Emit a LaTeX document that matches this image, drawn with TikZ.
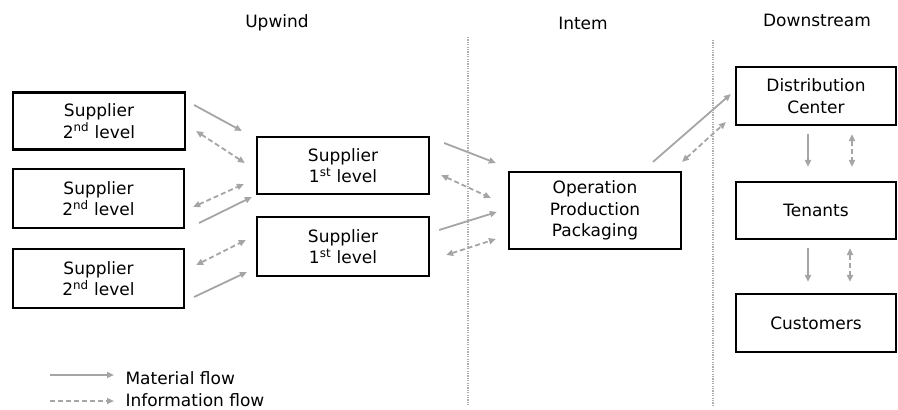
\documentclass[tikz,border=0pt]{standalone}
\usepackage{fontspec}
\setmainfont{DejaVu Sans}
\usetikzlibrary{arrows.meta,calc}
\definecolor{flowgray}{RGB}{165,165,165}
\definecolor{sepgray}{RGB}{175,175,175}
\tikzset{
  box/.style={draw=black, line width=2.2pt, align=center, inner sep=0pt,
    font=\fontsize{17}{21.5}\selectfont},
  hdr/.style={font=\fontsize{17}{21.5}\selectfont},
  mat/.style={draw=flowgray, line width=1.8pt, -{Triangle[length=7pt,width=6pt]}},
  info/.style={draw=flowgray, line width=1.8pt, dash pattern=on 5pt off 3pt,
    {Triangle[length=7pt,width=6pt]}-{Triangle[length=7pt,width=6pt]}},
  sep/.style={draw=sepgray, line width=1.4pt, dash pattern=on 1.2pt off 1.2pt}
}
\begin{document}
\begin{tikzpicture}[x=1pt,y=-1pt]
\useasboundingbox (0,0) rectangle (898,410);

% column headings
\node[hdr] (hup) at (277,23) {Upwind};
\node[hdr] (hin) at (583,23) {Intem};
\node[hdr] (hdown) at (817,20) {Downstream};

% column separators
\draw[sep] (468,37) -- (468,405);
\draw[sep] (713,40) -- (713,405);

% second-level suppliers
\node[box, minimum width=172pt, minimum height=57pt] (s2a) at (99,121) {Supplier\\2\textsuperscript{nd} level};
\node[box, minimum width=171pt, minimum height=59pt] (s2b) at (98.5,198.5) {Supplier\\2\textsuperscript{nd} level};
\node[box, minimum width=171pt, minimum height=59pt] (s2c) at (98.5,278.5) {Supplier\\2\textsuperscript{nd} level};

% first-level suppliers
\node[box, minimum width=172pt, minimum height=57pt] (s1a) at (343,165.5) {Supplier\\1\textsuperscript{st} level};
\node[box, minimum width=172pt, minimum height=59pt] (s1b) at (343,246.5) {Supplier\\1\textsuperscript{st} level};

% operations
\node[box, minimum width=172pt, minimum height=77pt] (op) at (595,210.5) {Operation\\Production\\Packaging};

% downstream chain
\node[box, minimum width=160pt, minimum height=58pt] (dc) at (816,96) {Distribution\\Center};
\node[box, minimum width=160pt, minimum height=57pt] (ten) at (816,210.5) {Tenants};
\node[box, minimum width=160pt, minimum height=58pt] (cus) at (816,323) {Customers};

% second level -> first level
\draw[mat]  ($(s2a.east)+(8,-16)$)   -- ($(s1a.west)+(-14,-34.5)$);
\draw[info] ($(s2a.east)+(10,10)$)   -- ($(s1a.west)+(-11,-2.5)$);
\draw[info] ($(s2b.east)+(8,8.5)$)   -- ($(s1a.west)+(-12,18.5)$);
\draw[mat]  ($(s2b.east)+(14,24.5)$) -- ($(s1a.west)+(-4,31.5)$);
\draw[info] ($(s2c.east)+(11,-13.5)$) -- ($(s1b.west)+(-10,-6.5)$);
\draw[mat]  ($(s2c.east)+(9,18.5)$)  -- ($(s1b.west)+(-9,25.5)$);

% first level -> operations
\draw[mat]  ($(s1a.east)+(14,-22.5)$) -- ($(op.west)+(-12,-47.5)$);
\draw[info] ($(s1a.east)+(11,9.5)$)   -- ($(op.west)+(-17,-12.5)$);
\draw[mat]  ($(s1b.east)+(9,-16.5)$)  -- ($(op.west)+(-11,1.5)$);
\draw[info] ($(s1b.east)+(16,8.5)$)   -- ($(op.west)+(-12,28.5)$);

% operations -> distribution
\draw[mat]  ($(op.north)+(58,-9)$) -- ($(dc.west)+(-4,-2)$);
\draw[info] ($(op.north)+(87,-9)$) -- ($(dc.west)+(-9,26)$);

% downstream vertical flows
\draw[mat]  ($(dc.south)+(-8,8)$)  -- ($(ten.north)+(-8,-14)$);
\draw[info] ($(dc.south)+(36,8)$)  -- ($(ten.north)+(36,-14)$);
\draw[mat]  ($(ten.south)+(-8,8)$) -- ($(cus.north)+(-8,-11)$);
\draw[info] ($(ten.south)+(34,8)$) -- ($(cus.north)+(34,-11)$);

% legend
\node[hdr, anchor=west, inner ysep=1pt] (lmat) at (122,378) {Material flow};
\node[hdr, anchor=west, inner ysep=1pt] (linfo) at (122,400) {Information flow};
\draw[mat]  ($(lmat.west)+(-72,-3)$)  -- ($(lmat.west)+(-8,-3)$);
\draw[mat, dash pattern=on 5pt off 3pt] ($(linfo.west)+(-72,1)$) -- ($(linfo.west)+(-8,1)$);
\end{tikzpicture}
\end{document}
